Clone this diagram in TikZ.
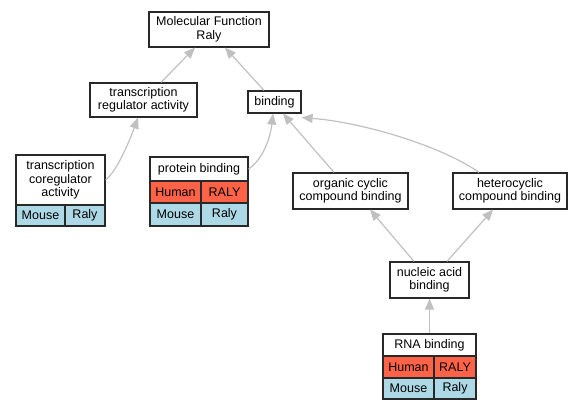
\documentclass[tikz,border=0pt]{standalone}
\usepackage{fontspec}
\setmainfont{Liberation Sans}
\usetikzlibrary{arrows.meta}
\definecolor{edgegray}{RGB}{192,192,192}
\definecolor{humanred}{RGB}{255,99,71}
\definecolor{mouseblue}{RGB}{173,216,230}
\definecolor{boxline}{RGB}{40,40,40}
\begin{document}
\begin{tikzpicture}[x=1pt,y=-1pt,
  term/.style={draw=boxline, line width=1.2pt, fill=white, align=center, inner sep=0pt,
    font=\fontsize{12.5}{13.5}\selectfont},
  hcell/.style={term, fill=humanred},
  mcell/.style={term, fill=mouseblue},
  edge/.style={draw=edgegray, line width=1.2pt, -{Triangle[length=11pt,width=9pt]}}]
\useasboundingbox (0,0) rectangle (584,411);

% plain terms
\node[term, minimum width=120pt, minimum height=35pt] (mf) at (209,29.5) {Molecular Function\\Raly};
\node[term, minimum width=107pt, minimum height=34pt] (tra) at (143.5,100) {transcription\\regulator activity};
\node[term, minimum width=53pt, minimum height=22pt] (bind) at (274.5,102) {binding};
\node[term, minimum width=115pt, minimum height=36pt] (oc) at (350.5,191) {organic cyclic\\compound binding};
\node[term, minimum width=114pt, minimum height=36pt] (hc) at (510,191) {heterocyclic\\compound binding};
\node[term, minimum width=79pt, minimum height=36pt] (na) at (429.5,280) {nucleic acid\\binding};

% transcription coregulator activity
\node[term, minimum width=89pt, minimum height=50pt] (cor) at (60.5,180) {transcription\\coregulator\\activity};
\node[mcell, minimum width=49pt, minimum height=21pt] (corm) at (40.5,215.5) {Mouse};
\node[mcell, minimum width=40pt, minimum height=21pt] (corg) at (85,215.5) {Raly};

% protein binding
\node[term, minimum width=98pt, minimum height=24pt] (pb) at (199,169) {protein binding};
\node[hcell, minimum width=51pt, minimum height=22pt] (pbh) at (175.5,192) {Human};
\node[hcell, minimum width=47pt, minimum height=22pt] (pbhg) at (224.5,192) {RALY};
\node[mcell, minimum width=51pt, minimum height=23pt] (pbm) at (175.5,214.5) {Mouse};
\node[mcell, minimum width=47pt, minimum height=23pt] (pbmg) at (224.5,214.5) {Raly};

% RNA binding
\node[term, minimum width=93pt, minimum height=22pt] (rna) at (429.5,345) {RNA binding};
\node[hcell, minimum width=51pt, minimum height=22pt] (rnah) at (408.5,367) {Human};
\node[hcell, minimum width=42pt, minimum height=22pt] (rnahg) at (455,367) {RALY};
\node[mcell, minimum width=51pt, minimum height=21pt] (rnam) at (408.5,388.5) {Mouse};
\node[mcell, minimum width=42pt, minimum height=21pt] (rnamg) at (455,388.5) {Raly};

% edges
\draw[edge] ([xshift=17.5pt]tra.north) -- ([xshift=-14pt]mf.south);
\draw[edge] ([xshift=-10.5pt]bind.north) -- ([xshift=16pt]mf.south);
\draw[edge] (cor.east) .. controls (116,172) and (128,145) .. ([xshift=-5.5pt]tra.south);
\draw[edge] (pb.east) .. controls (262,160) and (270,140) .. ([xshift=-1.5pt]bind.south);
\draw[edge] ([xshift=-16.5pt]oc.north) -- ([xshift=8.5pt]bind.south);
\draw[edge] ([xshift=-31pt]hc.north) .. controls (440,145) and (360,122) .. ([yshift=-4pt]bind.south east);
\draw[edge] ([xshift=-15.5pt]na.north) -- ([xshift=19.5pt]oc.south);
\draw[edge] ([xshift=17.5pt]na.north) -- ([xshift=-17pt]hc.south);
\draw[edge] (rna.north) -- (na.south);
\end{tikzpicture}
\end{document}
